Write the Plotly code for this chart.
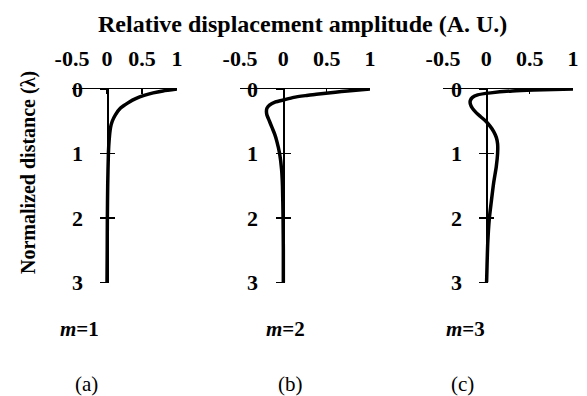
import plotly.graph_objects as go

# ---- data ----
depth_a = [0, 0.03, 0.06, 0.1, 0.15, 0.2, 0.25, 0.3, 0.4, 0.5, 0.6, 0.8, 1.0, 1.5, 2.0, 2.5, 3.0]
amp_a = [1.0, 0.8, 0.66, 0.53, 0.41, 0.32, 0.25, 0.19, 0.12, 0.075, 0.05, 0.03, 0.02, 0.01, 0.005, 0.003, 0.0]

depth_b = [0, 0.03, 0.05, 0.08, 0.1, 0.13, 0.17, 0.2, 0.25, 0.3, 0.35, 0.4, 0.5, 0.6, 0.7, 0.8, 1.0, 1.25, 1.5, 2.0, 2.5, 3.0]
amp_b = [1.0, 0.74, 0.6, 0.38, 0.27, 0.12, 0.0, -0.09, -0.16, -0.19, -0.195, -0.19, -0.16, -0.13, -0.1, -0.077, -0.043, -0.02, -0.01, -0.003, 0.0, 0.0]

depth_c = [0, 0.015, 0.03, 0.06, 0.09, 0.13, 0.18, 0.23, 0.3, 0.37, 0.43, 0.5, 0.58, 0.66, 0.75, 0.85, 1.0, 1.2, 1.45, 1.75, 2.0, 2.4, 2.8, 3.0]
amp_c = [1.0, 0.55, 0.3, 0.05, -0.1, -0.16, -0.185, -0.185, -0.16, -0.115, -0.065, -0.005, 0.045, 0.085, 0.115, 0.13, 0.13, 0.115, 0.085, 0.057, 0.035, 0.016, 0.007, 0.003]

x_ticks = [-0.5, 0, 0.5, 1]
x_tick_text = ["-0.5", "0", "0.5", "1"]
y_ticks = [0, 1, 2, 3]
y_tick_text = ["0", "1", "2", "3"]
mode_labels = ["<i>m</i>=1", "<i>m</i>=2", "<i>m</i>=3"]
panel_labels = ["(a)", "(b)", "(c)"]
x_title = "Relative displacement amplitude (A. U.)"
y_title = "Normalized distance (λ)"

W, H = 587, 396
FONT = "Liberation Serif"

# panel geometry in pixels
x_doms_px = [(72, 177), (240, 370), (443, 573)]
y_top_px, y_bot_px = 89, 282.5
label_right_px = [83, 258, 462]

ydom = [1 - y_bot_px / H, 1 - y_top_px / H]

fig = go.Figure()
series = [(depth_a, amp_a), (depth_b, amp_b), (depth_c, amp_c)]

layout = dict(
    template="none",
    width=W, height=H,
    margin=dict(l=0, r=0, t=0, b=0, autoexpand=False),
    paper_bgcolor="white", plot_bgcolor="rgba(0,0,0,0)",
    showlegend=False,
    font=dict(family=FONT, color="black"),
)

tickfont = dict(family=FONT, size=22, color="black", weight="bold")
common = dict(showgrid=False, zeroline=False, fixedrange=True, automargin=False)

for i, (d, a) in enumerate(series):
    n = i + 1
    xs = "" if n == 1 else str(n)
    x0, x1 = x_doms_px[i]
    xdom = [x0 / W, x1 / W]
    layout["xaxis" + xs] = dict(
        domain=xdom, range=[-0.5, 1], side="top", anchor="y" + xs,
        showline=True, linecolor="black", linewidth=1.5,
        ticks="inside", ticklen=5, tickcolor="black", tickwidth=1.2,
        tickvals=x_ticks, ticktext=x_tick_text, tickfont=tickfont,
        ticklabelstandoff=13, **common,
    )
    layout["yaxis" + xs] = dict(
        domain=ydom, range=[3, 0], anchor="x" + xs,
        showline=False, ticks="", showticklabels=False, **common,
    )
    fig.add_trace(go.Scatter(
        x=a, y=d, mode="lines",
        line=dict(color="black", width=3.5, shape="spline", smoothing=0.6),
        xaxis="x" + xs, yaxis="y" + xs, hoverinfo="skip"))

    # position of x = 0 inside the panel (paper fraction)
    zero_pos = xdom[0] + (0 - (-0.5)) / (1 - (-0.5)) * (xdom[1] - xdom[0])
    extra = [
        dict(position=zero_pos, showline=True, linecolor="black", linewidth=1.5,
             ticks="outside", ticklen=7, tickcolor="black", tickwidth=1.2,
             showticklabels=False),
        dict(position=zero_pos, showline=False,
             ticks="inside", ticklen=7, tickcolor="black", tickwidth=1.2,
             showticklabels=False),
        dict(position=label_right_px[i] / W, showline=False, ticks="",
             showticklabels=True, ticktext=y_tick_text, tickfont=tickfont),
    ]
    for k, e in enumerate(extra):
        idx = str(3 + n + 3 * k)
        layout["yaxis" + idx] = dict(
            domain=ydom, range=[3, 0], overlaying="y" + xs, anchor="free",
            tickvals=y_ticks, **common, **e,
        )
        fig.add_trace(go.Scatter(
            x=a, y=d, mode="lines", line=dict(color="rgba(0,0,0,0)", width=0.1),
            xaxis="x" + xs, yaxis="y" + idx, hoverinfo="skip"))

annotations = [
    dict(text=x_title, x=302 / W, y=1 - 24 / H, xref="paper", yref="paper",
         showarrow=False, font=dict(family=FONT, size=24, weight="bold"),
         xanchor="center", yanchor="middle"),
    dict(text=y_title, x=28 / W, y=1 - 173 / H, xref="paper", yref="paper",
         showarrow=False, textangle=-90, font=dict(family=FONT, size=20, weight="bold"),
         xanchor="center", yanchor="middle"),
]
m_x_px = [79, 285, 466]
p_x_px = [86, 290, 463]
for i in range(3):
    annotations.append(dict(text=mode_labels[i], x=m_x_px[i] / W, y=1 - 329 / H,
                            xref="paper", yref="paper", showarrow=False,
                            font=dict(family=FONT, size=21, weight="bold"),
                            xanchor="center", yanchor="middle"))
    annotations.append(dict(text=panel_labels[i], x=p_x_px[i] / W, y=1 - 384 / H,
                            xref="paper", yref="paper", showarrow=False,
                            font=dict(family=FONT, size=21),
                            xanchor="center", yanchor="middle"))
layout["annotations"] = annotations

fig.update_layout(**layout)
fig.write_html(
    "out.html",
    config={"displayModeBar": False, "staticPlot": True},
    post_script="document.body.style.margin='0px';document.body.style.overflow='hidden';",
)
